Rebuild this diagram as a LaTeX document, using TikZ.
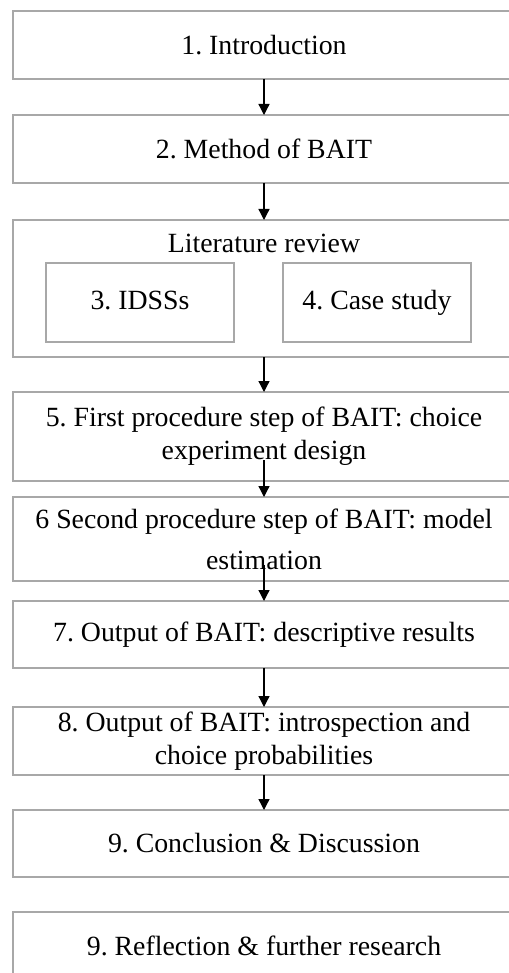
\documentclass[tikz,border=0pt]{standalone}
\usepackage{fontspec}
\setmainfont{Liberation Serif}
\usepackage{xcolor}
\usepackage{tikz}
\usetikzlibrary{positioning, arrows.meta}
\definecolor{BoxGray}{RGB}{168,168,168}
\frenchspacing

\begin{document}
\begin{tikzpicture}[node distance=18pt, every node/.style={font=\fontsize{13.9}{16.5}\selectfont},
  box/.style={draw=BoxGray, line width=0.75pt, align=center, minimum width=251pt, outer sep=0pt, inner sep=2pt},
  inbox/.style={draw=BoxGray, line width=0.75pt, align=center, minimum width=94pt, minimum height=39.5pt, text height=9.5pt, text depth=3pt, outer sep=0pt},
  arrow/.style={-{Triangle[length=5.5pt, width=5.5pt]}, line width=0.65pt, black}]

\useasboundingbox (0,0) rectangle (254pt,-486.5pt);

% Chapter boxes stacked vertically
\node[box, minimum height=34pt, anchor=north] (b1) at (132pt,-5.5pt) {1. Introduction};
\node[box, minimum height=34pt, below=of b1] (b2) {2. Method of BAIT};
\node[box, minimum height=68.5pt, below=18.5pt of b2] (b3) {};
\node[box, minimum height=44.5pt, below=17.5pt of b3] (b5) {5. First procedure step of BAIT: choice\\experiment design};
\node[box, minimum height=42pt, below=8pt of b5] (b6) {6 Second procedure step of BAIT: model\\[4pt]estimation};
\node[box, minimum height=33.5pt, below=10pt of b6] (b7) {7. Output of BAIT: descriptive results};
\node[box, minimum height=34pt, below=19.5pt of b7] (b8) {8. Output of BAIT: introspection and\\choice probabilities};
\node[box, minimum height=33.5pt, below=17.5pt of b8] (b9) {9. Conclusion \& Discussion};
\node[box, minimum height=34pt, below=17.5pt of b9] (b10) {9. Reflection \& further research};

% Literature review with its two chapters
\node (lit) at ([yshift=-11.5pt]b3.north) {Literature review};
\node[inbox, anchor=north west] (b3a) at ([xshift=16.5pt, yshift=-21.5pt]b3.north west) {3. IDSSs};
\node[inbox, anchor=north east] (b3b) at ([xshift=-22pt, yshift=-21.5pt]b3.north east) {4. Case study};

% Arrows between chapters
\draw[arrow] (b1.south) -- (b2.north);
\draw[arrow] (b2.south) -- (b3.north);
\draw[arrow] (b3.south) -- (b5.north);
\draw[arrow] ([yshift=10.5pt]b5.south) -- (b6.north);
\draw[arrow] ([yshift=8pt]b6.south) -- (b7.north);
\draw[arrow] (b7.south) -- (b8.north);
\draw[arrow] (b8.south) -- (b9.north);
\end{tikzpicture}
\end{document}
